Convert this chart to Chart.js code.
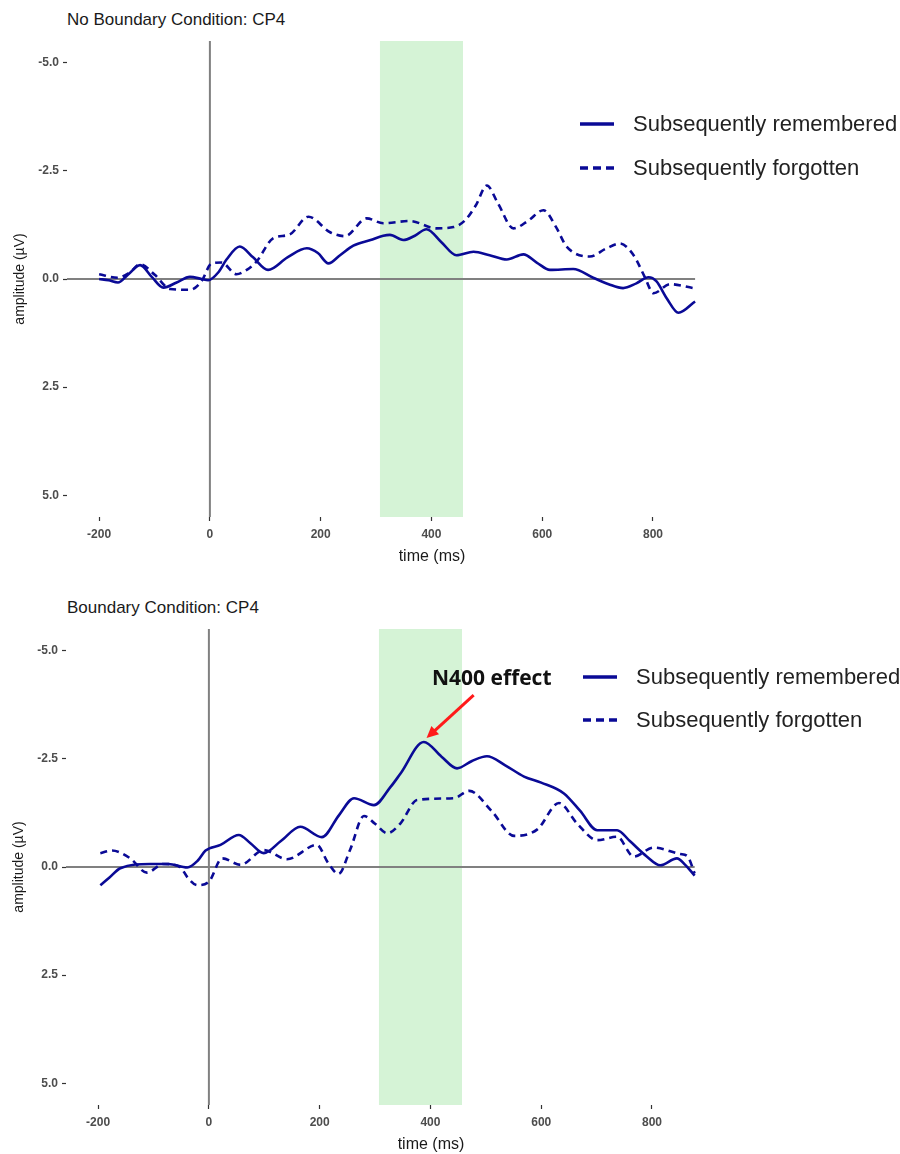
<!DOCTYPE html>
<html lang="en">
<head>
<meta charset="utf-8">
<title>CP4 ERP</title>
<script src="https://cdn.jsdelivr.net/npm/chart.js@4.4.1/dist/chart.umd.min.js"></script>
<style>
  body { margin: 0; background: #fff; width: 900px; height: 1154px; position: relative; overflow: hidden; font-family: "Liberation Sans", Arial, sans-serif; }
  .panel { position: absolute; left: 0; width: 900px; height: 575px; }
  .panel canvas { position: absolute; left: 0; top: 0; }
  .titulo { position: absolute; left: 67px; font-size: 17px; line-height: 20px; color: #1a1a1a; white-space: nowrap; }
  .leyenda { position: absolute; height: 26px; display: flex; align-items: center; font-size: 22px; color: #222; white-space: nowrap; }
  .leyenda svg { margin-right: 19px; }
  .anotacion { position: absolute; font-family: "Open Sans", sans-serif; font-weight: bold; font-size: 21px; line-height: 24px; color: #111; white-space: nowrap; }
</style>
</head>
<body>
  <div class="titulo" style="top:10px">No Boundary Condition: CP4</div>
  <div class="panel" style="top:0"><canvas id="graficoSinLimite" width="900" height="575"></canvas></div>
  <div class="leyenda" style="left:580px; top:111px"><svg width="34" height="6"><line x1="0" y1="3" x2="34" y2="3" stroke="#0a0a96" stroke-width="3.5"/></svg>Subsequently remembered</div>
  <div class="leyenda" style="left:580px; top:155px"><svg width="34" height="6"><line x1="0" y1="3" x2="34" y2="3" stroke="#0a0a96" stroke-width="3.5" stroke-dasharray="8,5"/></svg>Subsequently forgotten</div>

  <div class="titulo" style="top:598px">Boundary Condition: CP4</div>
  <div class="panel" style="top:588px; left:-1px"><canvas id="graficoLimite" width="900" height="575"></canvas></div>
  <div class="leyenda" style="left:583px; top:664px"><svg width="34" height="6"><line x1="0" y1="3" x2="34" y2="3" stroke="#0a0a96" stroke-width="3.5"/></svg>Subsequently remembered</div>
  <div class="leyenda" style="left:583px; top:707px"><svg width="34" height="6"><line x1="0" y1="3" x2="34" y2="3" stroke="#0a0a96" stroke-width="3.5" stroke-dasharray="8,5"/></svg>Subsequently forgotten</div>
  <div class="anotacion" style="left:432px; top:665px">N400 effect</div>

<script>
// Ejes
const ticksTiempo = [-200, 0, 200, 400, 600, 800];
const ticksAmplitud = [-5, -2.5, 0, 2.5, 5];
const ventanaN400 = [307, 457];

// No Boundary Condition (arriba)
const sinLimiteRecordadoT = [-200, -183, -166, -148, -126, -105, -84, -60, -36, -15, -3, 15, 30, 54, 78, 105, 140, 175, 195, 214, 235, 259, 290, 313, 325, 349, 370, 391, 418, 445, 476, 505, 536, 566, 590, 614, 656, 692, 720, 746, 770, 792, 806, 825, 846, 876];
const sinLimiteRecordadoV = [0.0, 0.03, 0.08, -0.1, -0.32, -0.05, 0.2, 0.08, -0.05, 0.0, 0.03, -0.15, -0.45, -0.75, -0.5, -0.21, -0.5, -0.71, -0.6, -0.36, -0.55, -0.77, -0.9, -1.0, -1.02, -0.9, -1.0, -1.15, -0.85, -0.55, -0.63, -0.55, -0.45, -0.57, -0.38, -0.21, -0.23, -0.03, 0.12, 0.21, 0.1, -0.04, 0.05, 0.45, 0.78, 0.52];
const sinLimiteOlvidadoT = [-200, -166, -145, -126, -99, -72, -36, -15, 3, 21, 48, 65, 84, 114, 144, 178, 217, 244, 283, 313, 361, 409, 440, 461, 480, 500, 520, 548, 575, 602, 625, 644, 686, 715, 740, 765, 785, 801, 831, 873];
const sinLimiteOlvidadoV = [-0.11, -0.03, -0.15, -0.34, -0.09, 0.23, 0.25, 0.05, -0.36, -0.38, -0.11, -0.2, -0.4, -0.94, -1.03, -1.44, -1.08, -0.99, -1.4, -1.29, -1.34, -1.17, -1.2, -1.36, -1.7, -2.16, -1.75, -1.17, -1.35, -1.59, -1.2, -0.75, -0.52, -0.7, -0.82, -0.55, -0.05, 0.33, 0.12, 0.21];

// Boundary Condition (abajo)
const limiteRecordadoT = [-196, -180, -160, -106, -73, -39, -20, -6, 21, 54, 75, 99, 130, 165, 204, 235, 262, 298, 328, 346, 388, 420, 448, 475, 502, 535, 569, 600, 641, 670, 701, 737, 760, 790, 815, 845, 860, 877];
const limiteRecordadoV = [0.42, 0.25, 0.03, -0.07, -0.07, 0.01, -0.15, -0.38, -0.51, -0.74, -0.55, -0.32, -0.6, -0.93, -0.69, -1.2, -1.59, -1.43, -1.85, -2.16, -2.89, -2.55, -2.28, -2.45, -2.56, -2.35, -2.09, -1.95, -1.7, -1.3, -0.85, -0.85, -0.6, -0.25, -0.04, -0.2, -0.05, 0.2];
const limiteOlvidadoT = [-196, -175, -142, -112, -82, -52, -38, -21, 0, 24, 57, 99, 141, 195, 215, 234, 255, 280, 300, 322, 346, 376, 442, 470, 510, 551, 593, 632, 665, 701, 737, 767, 803, 851, 864, 877];
const limiteOlvidadoV = [-0.32, -0.38, -0.2, 0.13, -0.07, 0.0, 0.25, 0.42, 0.34, -0.2, -0.05, -0.39, -0.18, -0.51, -0.1, 0.16, -0.4, -1.18, -1.0, -0.78, -1.01, -1.55, -1.59, -1.76, -1.3, -0.72, -0.87, -1.48, -1.0, -0.62, -0.7, -0.24, -0.45, -0.3, -0.25, 0.15];

// Flecha "N400 effect" en coordenadas de datos [ms, µV]
const flechaDesde = [478, -3.97];
const flechaHasta = [393, -2.98];

const colorLinea = "#0a0a96";
const fuente = '"Liberation Sans", Arial, sans-serif';

function puntos(tiempos, valores) {
  return tiempos.map((t, i) => ({ x: t, y: valores[i] }));
}

const pluginFondo = {
  id: "fondo",
  beforeDatasetsDraw(chart, args, opciones) {
    const { ctx, chartArea: area, scales: { x, y } } = chart;
    ctx.save();
    ctx.fillStyle = "#d5f3d6";
    const x0 = x.getPixelForValue(ventanaN400[0]);
    const x1 = x.getPixelForValue(ventanaN400[1]);
    ctx.fillRect(x0, area.top, x1 - x0, area.bottom - area.top);
    ctx.strokeStyle = "#808080";
    ctx.lineWidth = 2;
    ctx.beginPath();
    const xCero = x.getPixelForValue(0);
    ctx.moveTo(xCero, area.top);
    ctx.lineTo(xCero, area.bottom);
    const yCero = y.getPixelForValue(0);
    ctx.moveTo(area.left, yCero);
    ctx.lineTo(x.getPixelForValue(opciones.finX), yCero);
    ctx.stroke();
    ctx.restore();
  },
  afterDatasetsDraw(chart, args, opciones) {
    if (!opciones.flecha) return;
    const { ctx, scales: { x, y } } = chart;
    const ax = x.getPixelForValue(flechaDesde[0]), ay = y.getPixelForValue(flechaDesde[1]);
    const bx = x.getPixelForValue(flechaHasta[0]), by = y.getPixelForValue(flechaHasta[1]);
    const ang = Math.atan2(by - ay, bx - ax);
    const largo = 13;
    ctx.save();
    ctx.strokeStyle = "#ff1a1a";
    ctx.fillStyle = "#ff1a1a";
    ctx.lineWidth = 3;
    ctx.beginPath();
    ctx.moveTo(ax, ay);
    ctx.lineTo(bx - Math.cos(ang) * largo * 0.8, by - Math.sin(ang) * largo * 0.8);
    ctx.stroke();
    ctx.beginPath();
    ctx.moveTo(bx, by);
    ctx.lineTo(bx - largo * Math.cos(ang - 0.45), by - largo * Math.sin(ang - 0.45));
    ctx.lineTo(bx - largo * Math.cos(ang + 0.45), by - largo * Math.sin(ang + 0.45));
    ctx.closePath();
    ctx.fill();
    ctx.restore();
  },
};

function crearGrafico(canvasId, recordado, olvidado, flecha) {
  const finX = Math.max(recordado[recordado.length - 1].x, olvidado[olvidado.length - 1].x);
  return new Chart(document.querySelector(canvasId), {
    type: "line",
    data: {
      datasets: [
        { label: "Subsequently remembered", data: recordado, borderColor: colorLinea, borderWidth: 2.6, cubicInterpolationMode: "monotone" },
        { label: "Subsequently forgotten", data: olvidado, borderColor: colorLinea, borderWidth: 2.6, borderDash: [7, 5], cubicInterpolationMode: "monotone" },
      ],
    },
    options: {
      responsive: false,
      animation: false,
      layout: { padding: { top: 41, right: 103, left: 0, bottom: 0 } },
      elements: { point: { radius: 0 } },
      plugins: { legend: { display: false }, tooltip: { enabled: false }, fondo: { finX, flecha } },
      scales: {
        x: {
          type: "linear", min: -258, max: 1060,
          afterBuildTicks: (eje) => { eje.ticks = ticksTiempo.map((v) => ({ value: v })); },
          afterFit: (eje) => { eje.height = 58; },
          border: { display: false },
          grid: { drawOnChartArea: false, tickLength: 4, tickColor: "#333", tickWidth: 1.2 },
          ticks: { callback: (v) => String(v), color: "#4d4d4d", font: { family: fuente, size: 12, weight: "bold" }, padding: 6, maxRotation: 0, autoSkip: false },
          title: { display: true, text: "time (ms)", color: "#1a1a1a", font: { family: fuente, size: 16 }, padding: { top: 0, bottom: 9 } },
        },
        y: {
          reverse: true, min: -5.5, max: 5.5,
          afterBuildTicks: (eje) => { eje.ticks = ticksAmplitud.map((v) => ({ value: v })); },
          afterFit: (eje) => { eje.width = 67; },
          border: { display: false },
          grid: { drawOnChartArea: false, tickLength: 4, tickColor: "#333", tickWidth: 1.2 },
          ticks: { callback: (v) => v.toFixed(1), color: "#4d4d4d", font: { family: fuente, size: 12, weight: "bold" }, padding: 4 },
          title: { display: true, text: "amplitude (µV)", color: "#1a1a1a", font: { family: fuente, size: 14 }, padding: { top: 12, bottom: 0 } },
        },
      },
    },
    plugins: [pluginFondo],
  });
}

crearGrafico("#graficoSinLimite", puntos(sinLimiteRecordadoT, sinLimiteRecordadoV), puntos(sinLimiteOlvidadoT, sinLimiteOlvidadoV), false);
crearGrafico("#graficoLimite", puntos(limiteRecordadoT, limiteRecordadoV), puntos(limiteOlvidadoT, limiteOlvidadoV), true);
</script>
</body>
</html>
